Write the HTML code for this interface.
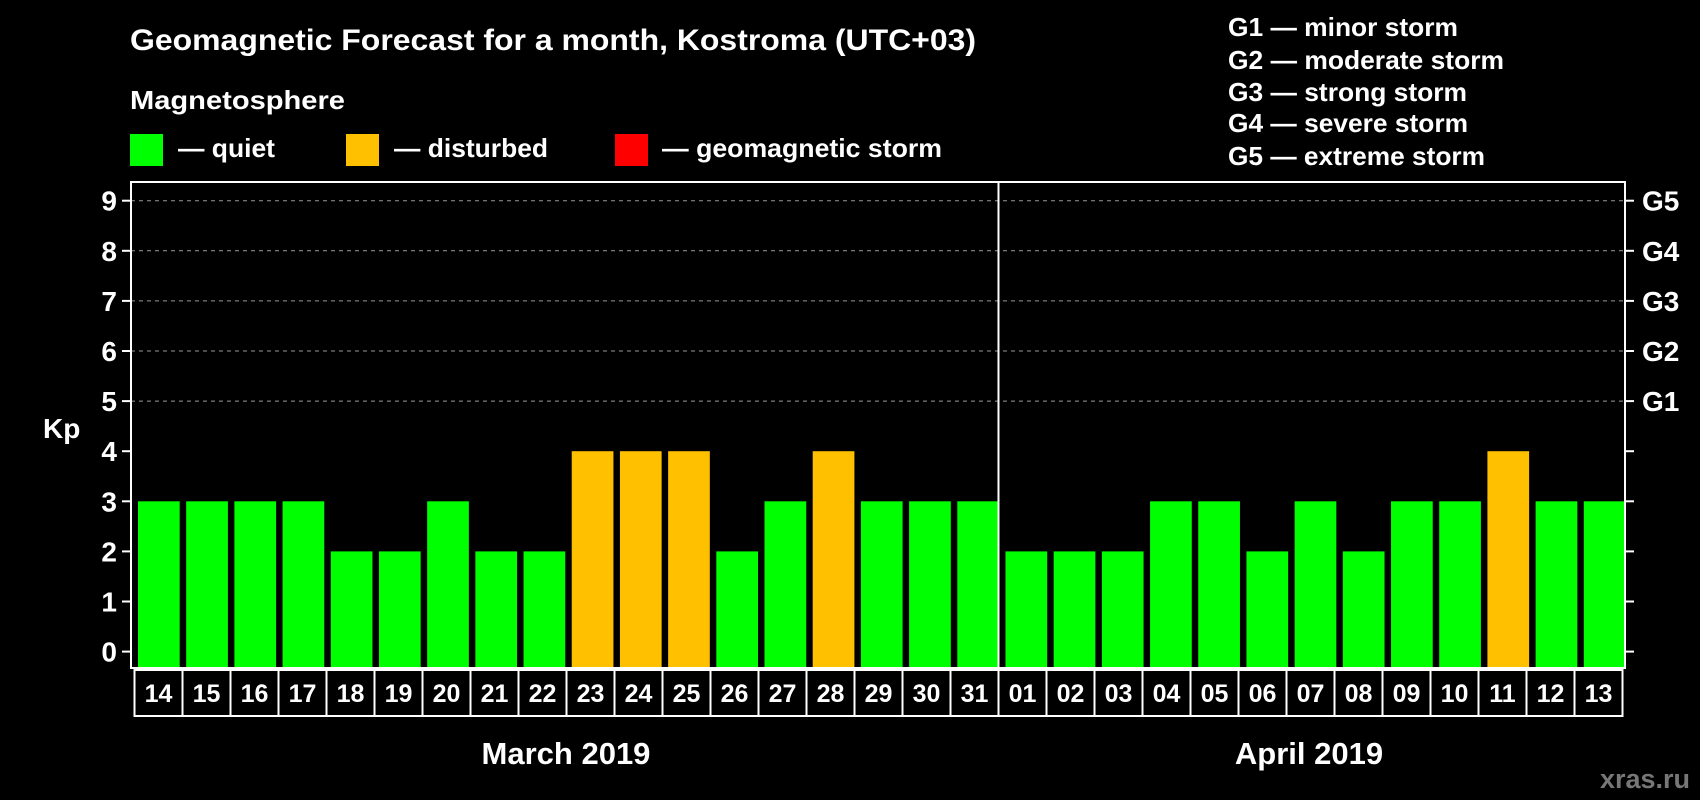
<!DOCTYPE html>
<html><head><meta charset="utf-8"><style>
html,body{margin:0;padding:0;background:#000;}
svg{display:block;font-family:"Liberation Sans",Arial,sans-serif;font-weight:bold;}
</style></head><body>
<svg id="chart" width="1700" height="800" viewBox="0 0 1700 800">
<rect x="0" y="0" width="1700" height="800" fill="#000"/>
<text x="130" y="50" fill="#fff" font-size="30" textLength="846" lengthAdjust="spacingAndGlyphs">Geomagnetic Forecast for a month, Kostroma (UTC+03)</text>
<text x="130" y="109" fill="#fff" font-size="26" textLength="215" lengthAdjust="spacingAndGlyphs">Magnetosphere</text>
<g><rect x="130" y="134" width="33" height="32" fill="#00ff00"/><text x="178" y="157" fill="#fff" font-size="26" textLength="97" lengthAdjust="spacingAndGlyphs">— quiet</text></g>
<g><rect x="346" y="134" width="33" height="32" fill="#ffc000"/><text x="394" y="157" fill="#fff" font-size="26" textLength="154" lengthAdjust="spacingAndGlyphs">— disturbed</text></g>
<g><rect x="615" y="134" width="33" height="32" fill="#ff0000"/><text x="662" y="157" fill="#fff" font-size="26" textLength="280" lengthAdjust="spacingAndGlyphs">— geomagnetic storm</text></g>
<g fill="#fff" font-size="26">
<text x="1228" y="36" textLength="230" lengthAdjust="spacingAndGlyphs">G1 — minor storm</text>
<text x="1228" y="69" textLength="276" lengthAdjust="spacingAndGlyphs">G2 — moderate storm</text>
<text x="1228" y="101" textLength="239" lengthAdjust="spacingAndGlyphs">G3 — strong storm</text>
<text x="1228" y="132" textLength="240" lengthAdjust="spacingAndGlyphs">G4 — severe storm</text>
<text x="1228" y="165" textLength="257" lengthAdjust="spacingAndGlyphs">G5 — extreme storm</text>
</g>
<text x="43" y="438" fill="#fff" font-size="28">Kp</text>
<text x="566" y="764" fill="#fff" font-size="31" text-anchor="middle">March 2019</text>
<text x="1309" y="764" fill="#fff" font-size="31" text-anchor="middle">April 2019</text>
<text x="1690" y="788" fill="#777" font-size="27" text-anchor="end">xras.ru</text>
<g id="plot"></g>
</svg>
<script>
const days = ["14","15","16","17","18","19","20","21","22","23","24","25","26","27","28","29","30","31","01","02","03","04","05","06","07","08","09","10","11","12","13"];
const kpValues = [3,3,3,3,2,2,3,2,2,4,4,4,2,3,4,3,3,3,2,2,2,3,3,2,3,2,3,3,4,3,3];
const yTicks = [0,1,2,3,4,5,6,7,8,9];
const gLabels = ["G1","G2","G3","G4","G5"];
const ns = "http://www.w3.org/2000/svg";
const L = 131, R = 1625, T = 182, B = 668;
const y0 = 651.6, unit = 50.1;
const yScale = v => y0 - v * unit;
const band = (R - L) / days.length;
const xScale = i => L + band * i;
const g = document.getElementById("plot");
function mk(tag, attrs) { const e = document.createElementNS(ns, tag); for (const k in attrs) e.setAttribute(k, attrs[k]); g.appendChild(e); return e; }
yTicks.forEach(v => {
  const y = yScale(v);
  if (v >= 5) {
    const gl = mk("line", {x1: L, x2: R, y1: y, y2: y, stroke: "#999", "stroke-width": 1, "stroke-dasharray": "4,4"});
    
    
  }
  const t = mk("line", {x1: 122, x2: L, y1: y, y2: y, stroke: "#fff", "stroke-width": 2});
  
  
  const tr = mk("line", {x1: R, x2: R + 9, y1: y, y2: y, stroke: "#fff", "stroke-width": 2});
  
  
  const lb = mk("text", {x: 117, y: y + 10, fill: "#fff", "font-size": 28, "text-anchor": "end"});
  lb.textContent = v;
  
  
});
gLabels.forEach((s, i) => {
  const lb = mk("text", {x: 1642, y: yScale(5 + i) + 10, fill: "#fff", "font-size": 28});
  lb.textContent = s;
  
  
});
const cellW = 48, cellX0 = 134.5;
kpValues.forEach((v, i) => {
  const col = v >= 5 ? "#ff0000" : (v >= 4 ? "#ffc000" : "#00ff00");
  const b = mk("rect", {x: xScale(i) + 7, y: yScale(v), width: band - 6.5, height: B - yScale(v), fill: col});
  
  
  const c = mk("rect", {x: cellX0 + cellW * i, y: 670, width: cellW, height: 46, fill: "none", stroke: "#fff", "stroke-width": 2});
  
  
  const t = mk("text", {x: cellX0 + cellW * i + cellW / 2, y: 702, fill: "#fff", "font-size": 25, "text-anchor": "middle"});
  t.textContent = days[i];
  
  
});
const frame = mk("rect", {x: L, y: T, width: R - L, height: B - T, fill: "none", stroke: "#fff", "stroke-width": 2});


const split = days.indexOf("01");
const d = mk("line", {x1: xScale(split), x2: xScale(split), y1: T, y2: B, stroke: "#fff", "stroke-width": 2});


</script>
</body></html>
